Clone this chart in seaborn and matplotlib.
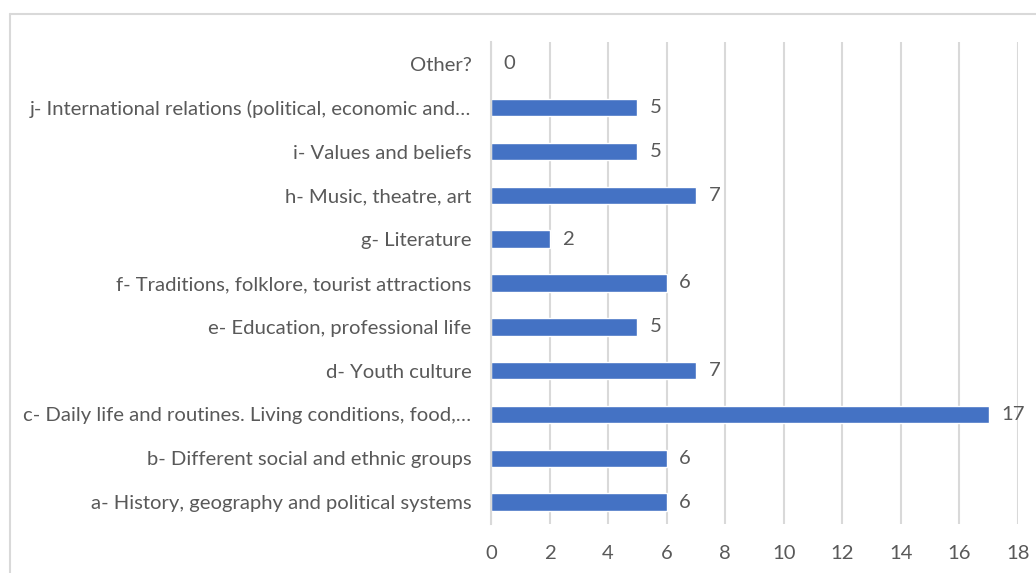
import matplotlib
matplotlib.use("Agg")
import matplotlib.pyplot as plt
from matplotlib.lines import Line2D
import seaborn as sns
import pandas as pd

categories = [
    "Other?",
    "j- International relations (political, economic and…",
    "i- Values and beliefs",
    "h- Music, theatre, art",
    "g- Literature",
    "f- Traditions, folklore, tourist attractions",
    "e- Education, professional life",
    "d- Youth culture",
    "c- Daily life and routines. Living conditions, food,…",
    "b- Different social and ethnic groups",
    "a- History, geography and political systems",
]
counts = [0, 5, 5, 7, 2, 6, 5, 7, 17, 6, 6]
x_ticks = [0, 2, 4, 6, 8, 10, 12, 14, 16, 18]

sns.set_theme(style="white")
plt.rcParams["font.family"] = ["Lato", "DejaVu Sans"]

text_color = "#595959"
grid_color = "#D9D9D9"
bar_color = "#4472C4"
fs = 14.6

df = pd.DataFrame({"topic": categories, "count": counts})

fig = plt.figure(figsize=(10.36, 5.73), dpi=100)
ax = fig.add_axes([491 / 1036, 1 - 524 / 573, (1018 - 491) / 1036, (524 - 42) / 573])

sns.barplot(data=df, y="topic", x="count", orient="h", color=bar_color,
            width=0.4, saturation=1, ax=ax, zorder=3)

ax.set_xlim(0, 18)
ax.set_xticks(x_ticks)
ax.set_xlabel("")
ax.set_ylabel("")
ax.grid(axis="x", color=grid_color, linewidth=1.5, zorder=0)
ax.grid(axis="y", visible=False)
for side in ["top", "right", "bottom"]:
    ax.spines[side].set_visible(False)
ax.spines["left"].set_color(grid_color)
ax.spines["left"].set_linewidth(1.5)
ax.spines["left"].set_zorder(4)

ax.tick_params(axis="x", length=0, pad=15, labelsize=fs, labelcolor=text_color)
ax.tick_params(axis="y", length=0, pad=14, labelsize=fs, labelcolor=text_color)

for cont in ax.containers:
    ax.bar_label(cont, labels=[str(v) for v in counts], padding=9,
                 fontsize=fs, color=text_color)

# chart frame
fig.add_artist(Line2D([9.5 / 1036, 9.5 / 1036], [0, 1 - 14 / 573],
                      color="#D9D9D9", linewidth=1.5, transform=fig.transFigure))
fig.add_artist(Line2D([9.5 / 1036, 1], [1 - 14 / 573, 1 - 14 / 573],
                      color="#D9D9D9", linewidth=1.5, transform=fig.transFigure))

fig.savefig("out.png", dpi=100, facecolor="white")
